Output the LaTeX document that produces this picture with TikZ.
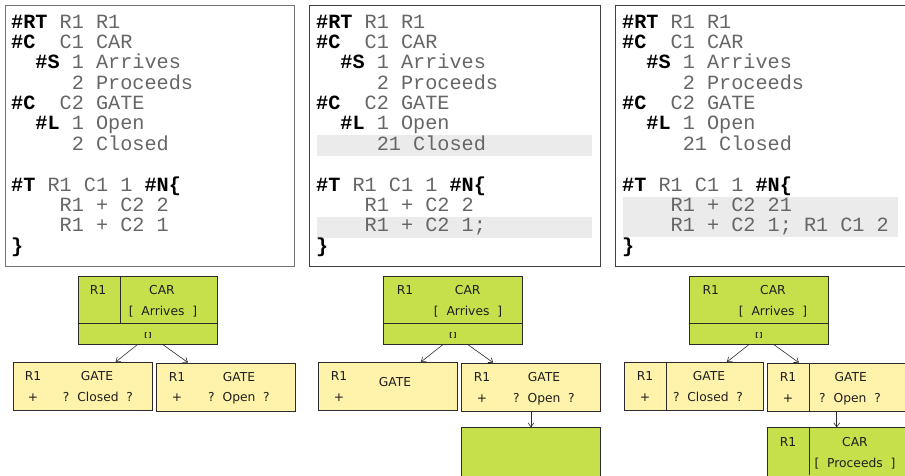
\documentclass[tikz,border=0pt]{standalone}
\usepackage{fontspec}
\setmainfont{DejaVu Sans}
\newfontfamily\codefont{Liberation Mono}
\usetikzlibrary{arrows.meta,calc}
\definecolor{nodegreen}{HTML}{C6E04B}
\definecolor{nodeyellow}{HTML}{FFF3AB}
\definecolor{hilite}{HTML}{EBEBEB}
\definecolor{codegray}{HTML}{666666}
\definecolor{nodeedge}{HTML}{2B2B2B}
\definecolor{lbltext}{HTML}{1E1E1E}
\newcommand\kw[1]{\textcolor{black}{\bfseries #1}}
\begin{document}
\begin{tikzpicture}[x=1pt,y=-1pt,
  codeln/.style={anchor=base west, inner sep=0, font=\codefont\fontsize{20.2}{22}\selectfont, text=codegray},
  panel/.style={draw=#1, line width=1pt, anchor=north west, inner sep=0, minimum height=260.5pt},
  hibar/.style={fill=hilite, draw=none, anchor=north west, inner sep=0, minimum width=275pt},
  gbox/.style={draw=nodeedge, fill=nodegreen, line width=1pt, anchor=north west, inner sep=0, minimum width=139pt, minimum height=68pt},
  ybox/.style={draw=nodeedge, fill=nodeyellow, line width=1pt, anchor=north west, inner sep=0, minimum width=139pt, minimum height=48pt},
  divline/.style={draw=nodeedge, line width=0.9pt},
  lbl/.style={anchor=base, inner sep=0, font=\fontsize{12.3}{14}\selectfont, text=lbltext},
  tiny/.style={anchor=base, inner sep=0, font=\bfseries\fontsize{6.5}{8}\selectfont, text=lbltext},
  tarrow/.style={draw=nodeedge, line width=0.6pt, -{Straight Barb[length=4pt,width=6pt]}}
]
\useasboundingbox (0,0) rectangle (905,475);
\clip (0,0) rectangle (905,475);

% ---------- code panels ----------
\node[panel=gray!90!black, minimum width=289pt] (pan1) at (4.5,5) {};
\node[panel=black!75, minimum width=291pt] (pan2) at (309,5) {};
\node[panel=black!75, minimum width=300pt] (pan3) at (614.5,5) {};

% highlights
\node[hibar, minimum height=21pt] (h2a) at (317,135) {};
\node[hibar, minimum height=21pt] (h2b) at (317,217) {};
\node[hibar, minimum height=40pt] (h3a) at (623,197) {};

% panel 1 code
\node[codeln] (a1) at (11,28) {\kw{\#RT} R1 R1};
\node[codeln] (a2) at (11,48.4) {\kw{\#C}\ \ C1 CAR};
\node[codeln] (a3) at (11,68.7) {\ \ \kw{\#S} 1 Arrives};
\node[codeln] (a4) at (11,89.1) {\ \ \ \ \ 2 Proceeds};
\node[codeln] (a5) at (11,109.5) {\kw{\#C}\ \ C2 GATE};
\node[codeln] (a6) at (11,129.9) {\ \ \kw{\#L} 1 Open};
\node[codeln] (a7) at (11,150.2) {\ \ \ \ \ 2 Closed};
\node[codeln] (a9) at (11,191) {\kw{\#T} R1 C1 1 \kw{\#N\{}};
\node[codeln] (a10) at (11,211.3) {\ \ \ \ R1 + C2 2};
\node[codeln] (a11) at (11,231.7) {\ \ \ \ R1 + C2 1};
\node[codeln] (a12) at (11,252) {\kw{\}}};

% panel 2 code
\node[codeln] (b1) at (316,28) {\kw{\#RT} R1 R1};
\node[codeln] (b2) at (316,48.4) {\kw{\#C}\ \ C1 CAR};
\node[codeln] (b3) at (316,68.7) {\ \ \kw{\#S} 1 Arrives};
\node[codeln] (b4) at (316,89.1) {\ \ \ \ \ 2 Proceeds};
\node[codeln] (b5) at (316,109.5) {\kw{\#C}\ \ C2 GATE};
\node[codeln] (b6) at (316,129.9) {\ \ \kw{\#L} 1 Open};
\node[codeln] (b7) at (316,150.2) {\ \ \ \ \ 21 Closed};
\node[codeln] (b9) at (316,191) {\kw{\#T} R1 C1 1 \kw{\#N\{}};
\node[codeln] (b10) at (316,211.3) {\ \ \ \ R1 + C2 2};
\node[codeln] (b11) at (316,231.7) {\ \ \ \ R1 + C2 1;};
\node[codeln] (b12) at (316,252) {\kw{\}}};

% panel 3 code
\node[codeln] (c1) at (622,28) {\kw{\#RT} R1 R1};
\node[codeln] (c2) at (622,48.4) {\kw{\#C}\ \ C1 CAR};
\node[codeln] (c3) at (622,68.7) {\ \ \kw{\#S} 1 Arrives};
\node[codeln] (c4) at (622,89.1) {\ \ \ \ \ 2 Proceeds};
\node[codeln] (c5) at (622,109.5) {\kw{\#C}\ \ C2 GATE};
\node[codeln] (c6) at (622,129.9) {\ \ \kw{\#L} 1 Open};
\node[codeln] (c7) at (622,150.2) {\ \ \ \ \ 21 Closed};
\node[codeln] (c9) at (622,191) {\kw{\#T} R1 C1 1 \kw{\#N\{}};
\node[codeln] (c10) at (622,211.3) {\ \ \ \ R1 + C2 21};
\node[codeln] (c11) at (622,231.7) {\ \ \ \ R1 + C2 1; R1 C1 2};
\node[codeln] (c12) at (622,252) {\kw{\}}};

% ---------- tree 1 ----------
\node[gbox] (r1) at (78,275.5) {};
\draw[divline] (78,323) -- (217,323);
\draw[divline] (120.7,275.5) -- (120.7,323);
\node[lbl] (r1a) at (98,294.5) {R1};
\node[lbl] (r1b) at (162,294.5) {CAR};
\node[lbl] (r1c) at (163,315.3) {[\ \ Arrives\ \ ]};
\node[tiny] (r1d) at (148,337) {[\,]};

\node[ybox] (l1) at (12.7,362) {};
\node[lbl] (l1a) at (33,380.5) {R1};
\node[lbl] (l1b) at (97,380.5) {GATE};
\node[lbl] (l1c) at (33,401.3) {+};
\node[lbl] (l1d) at (98,401.3) {?\ \ Closed\ \ ?};

\node[ybox] (m1) at (155.7,362.5) {};
\node[lbl] (m1a) at (177,381) {R1};
\node[lbl] (m1b) at (239,381) {GATE};
\node[lbl] (m1c) at (177,401.8) {+};
\node[lbl] (m1d) at (239,401.8) {?\ \ Open\ \ ?};

\draw[tarrow] ($(r1.south west)!0.425!(r1.south east)$) -- ($(l1.north west)!0.735!(l1.north east)$);
\draw[tarrow] ($(r1.south west)!0.605!(r1.south east)$) -- ($(m1.north west)!0.23!(m1.north east)$);

% ---------- tree 2 ----------
\node[gbox] (r2) at (383.3,275.7) {};
\draw[divline] (383.3,323.3) -- (522.3,323.3);
\node[lbl] (r2a) at (405,294.5) {R1};
\node[lbl] (r2b) at (467.7,294.5) {CAR};
\node[lbl] (r2c) at (468,315.3) {[\ \ Arrives\ \ ]};
\node[tiny] (r2d) at (453,337) {[\,]};

\node[ybox] (l2) at (318,362) {};
\node[lbl] (l2a) at (339,380.5) {R1};
\node[lbl] (l2b) at (395,386.3) {GATE};
\node[lbl] (l2c) at (339,401.3) {+};

\node[ybox] (m2) at (461,362.7) {};
\node[lbl] (m2a) at (482,381.2) {R1};
\node[lbl] (m2b) at (544,381.2) {GATE};
\node[lbl] (m2c) at (482,402) {+};
\node[lbl] (m2d) at (544,402) {?\ \ Open\ \ ?};

\node[gbox] (n2) at (461,427.3) {};

\draw[tarrow] ($(r2.south west)!0.425!(r2.south east)$) -- ($(l2.north west)!0.735!(l2.north east)$);
\draw[tarrow] ($(r2.south west)!0.605!(r2.south east)$) -- ($(m2.north west)!0.23!(m2.north east)$);
\draw[tarrow] (m2.south) -- (n2.north);

% ---------- tree 3 ----------
\node[gbox] (r3) at (689.3,275.7) {};
\draw[divline] (689.3,323.3) -- (828.3,323.3);
\node[lbl] (r3a) at (710.7,294.5) {R1};
\node[lbl] (r3b) at (773,294.5) {CAR};
\node[lbl] (r3c) at (773,315.3) {[\ \ Arrives\ \ ]};
\node[tiny] (r3d) at (759,337) {[\,]};

\node[ybox] (l3) at (624,362) {};
\draw[divline] (666.7,362) -- (666.7,410);
\node[lbl] (l3a) at (645,380.5) {R1};
\node[lbl] (l3b) at (709,380.5) {GATE};
\node[lbl] (l3c) at (645,401.3) {+};
\node[lbl] (l3d) at (708,401.3) {?\ \ Closed\ \ ?};

\node[ybox] (m3) at (766.7,362.7) {};
\draw[divline] (809.3,362.7) -- (809.3,410.7);
\node[lbl] (m3a) at (788,381.2) {R1};
\node[lbl] (m3b) at (850.7,381.2) {GATE};
\node[lbl] (m3c) at (788,402) {+};
\node[lbl] (m3d) at (850,402) {?\ \ Open\ \ ?};

\node[gbox] (n3) at (766.7,427.3) {};
\draw[divline] (809.3,427.3) -- (809.3,475);
\node[lbl] (n3a) at (788,446.3) {R1};
\node[lbl] (n3b) at (855,446.3) {CAR};
\node[lbl] (n3c) at (855,467.3) {[\ \ Proceeds\ \ ]};

\draw[tarrow] ($(r3.south west)!0.425!(r3.south east)$) -- ($(l3.north west)!0.735!(l3.north east)$);
\draw[tarrow] ($(r3.south west)!0.605!(r3.south east)$) -- ($(m3.north west)!0.23!(m3.north east)$);
\draw[tarrow] (m3.south) -- (n3.north);
\end{tikzpicture}
\end{document}
